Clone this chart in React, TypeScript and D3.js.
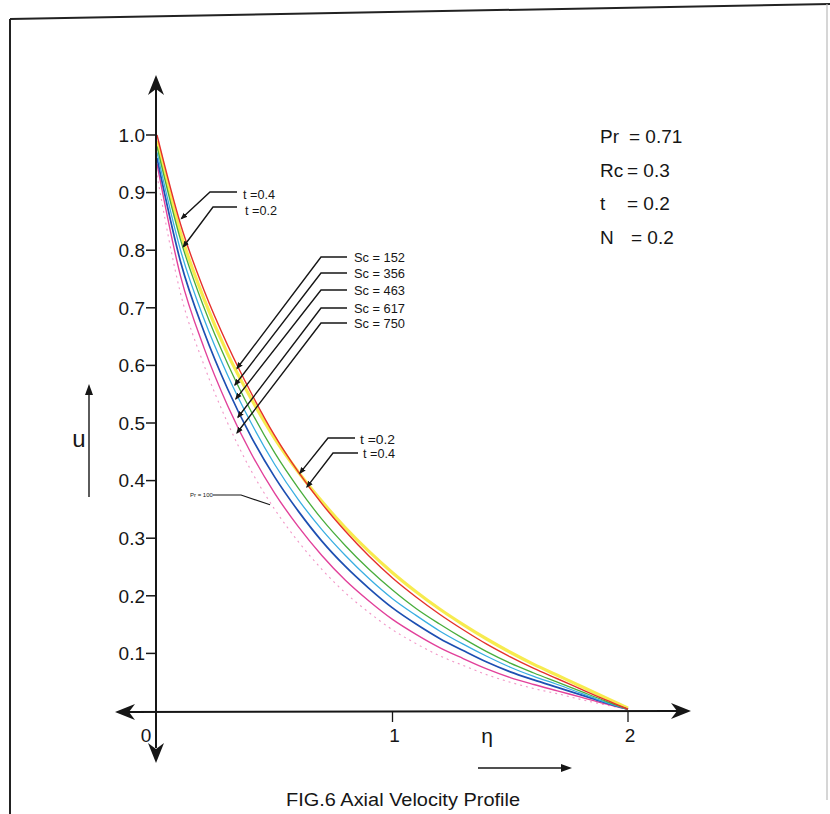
import React from "react";
import * as d3 from "d3";

// Similarity variable η along the plate
const ETA = [0, 0.1, 0.2, 0.3, 0.4, 0.5, 0.6, 0.7, 0.8, 0.9, 1.0, 1.1, 1.2, 1.3, 1.4, 1.5, 1.6, 1.7, 1.8, 1.9, 2.0];

// Axial velocity u(η) for each profile
const U_RED = [1.0, 0.845, 0.73, 0.635, 0.552, 0.478, 0.415, 0.36, 0.312, 0.269, 0.231, 0.198, 0.168, 0.141, 0.116, 0.094, 0.074, 0.056, 0.038, 0.02, 0.003];
const U_YELLOW = [0.99, 0.83, 0.715, 0.62, 0.542, 0.473, 0.415, 0.364, 0.318, 0.277, 0.24, 0.207, 0.177, 0.15, 0.125, 0.102, 0.081, 0.062, 0.043, 0.024, 0.005];
const U_GREEN = [0.98, 0.818, 0.7, 0.603, 0.52, 0.448, 0.387, 0.333, 0.287, 0.246, 0.21, 0.178, 0.151, 0.126, 0.103, 0.083, 0.066, 0.05, 0.034, 0.018, 0.003];
const U_CYAN = [0.97, 0.8, 0.68, 0.583, 0.5, 0.428, 0.367, 0.315, 0.27, 0.23, 0.195, 0.166, 0.139, 0.116, 0.095, 0.076, 0.06, 0.046, 0.031, 0.016, 0.003];
const U_BLUE = [0.96, 0.78, 0.658, 0.559, 0.476, 0.406, 0.347, 0.295, 0.251, 0.213, 0.179, 0.151, 0.126, 0.105, 0.085, 0.068, 0.054, 0.041, 0.028, 0.015, 0.003];
const U_PINK = [0.95, 0.755, 0.63, 0.53, 0.447, 0.378, 0.32, 0.27, 0.227, 0.191, 0.159, 0.133, 0.11, 0.091, 0.073, 0.058, 0.046, 0.035, 0.024, 0.013, 0.003];
const U_PR100 = [0.93, 0.725, 0.6, 0.5, 0.417, 0.35, 0.294, 0.246, 0.205, 0.171, 0.141, 0.117, 0.096, 0.079, 0.063, 0.05, 0.039, 0.03, 0.02, 0.011, 0.003];

// Axis ticks
const Y_TICKS = [0.1, 0.2, 0.3, 0.4, 0.5, 0.6, 0.7, 0.8, 0.9, 1.0];
const Y_TICK_LABELS = ["0.1", "0.2", "0.3", "0.4", "0.5", "0.6", "0.7", "0.8", "0.9", "1.0"];
const X_TICKS = [0, 1, 2];
const X_TICK_LABELS = ["0", "1", "2"];

// Parameter box
const PARAM_NAMES = ["Pr", "Rc", "t", "N"];
const PARAM_VALUES = ["= 0.71", "= 0.3", "= 0.2", "= 0.2"];

// Sc labels and where each leader lands (η, u)
const SC_LABELS = ["Sc = 152", "Sc = 356", "Sc = 463", "Sc = 617", "Sc = 750"];
const SC_TARGETS: [number, number][] = [[0.34, 0.595], [0.331, 0.566], [0.335, 0.542], [0.344, 0.51], [0.34, 0.483]];

const FONT = "'Liberation Sans', Arial, Helvetica, sans-serif";
const INK = "#161616";

const series = [
  { values: U_YELLOW, color: "#f6e93c", width: 3.2, dash: undefined as string | undefined, opacity: 0.9 },
  { values: U_PR100, color: "#f08ac0", width: 1.1, dash: "2,4", opacity: 0.9 },
  { values: U_PINK, color: "#e2409a", width: 1.4, dash: undefined, opacity: 1 },
  { values: U_BLUE, color: "#1d4fb2", width: 1.7, dash: undefined, opacity: 1 },
  { values: U_CYAN, color: "#39aee2", width: 1.3, dash: undefined, opacity: 1 },
  { values: U_GREEN, color: "#49ad3c", width: 1.3, dash: undefined, opacity: 1 },
  { values: U_RED, color: "#e5302c", width: 1.4, dash: undefined, opacity: 1 },
];

export default function App() {
  const x = d3.scaleLinear().domain([0, 2]).range([157, 628]);
  const y = d3.scaleLinear().domain([0, 1]).range([711, 135]);

  const line = d3
    .line<number>()
    .x((_, i) => x(ETA[i]))
    .y((d) => y(d))
    .curve(d3.curveMonotoneX);

  const axisX = x(0) - 1;
  const axisY = y(0);

  // leader: from text-side start, horizontal run, then diagonal to a point on the curves
  const leader = (sx: number, sy: number, run: number, eta: number, u: number) =>
    `M${sx},${sy} L${sx - run},${sy} L${x(eta)},${y(u)}`;

  return (
    <svg
      width={830}
      height={814}
      style={{ position: "absolute", left: 0, top: 0, display: "block", background: "#fff" }}
      fontFamily={FONT}
    >
      <defs>
        <marker id="tipDot" viewBox="0 0 10 10" refX="8" refY="5" markerWidth="5" markerHeight="5" orient="auto">
          <path d="M0,1 L10,5 L0,9 Z" fill={INK} />
        </marker>
      </defs>
      <rect x={0} y={0} width={830} height={814} fill="#fff" />

      {/* page frame */}
      <line x1={10} y1={19} x2={830} y2={4} stroke="#222" strokeWidth={2} />
      <line x1={10} y1={19} x2={10} y2={814} stroke="#222" strokeWidth={2} />
      <line x1={827} y1={4} x2={827} y2={800} stroke="#bbb" strokeWidth={1.2} />

      {/* profiles */}
      {series.map((s, i) => (
        <path
          key={i}
          d={line(s.values) || ""}
          fill="none"
          stroke={s.color}
          strokeWidth={s.width}
          strokeDasharray={s.dash}
          strokeOpacity={s.opacity}
          strokeLinejoin="round"
        />
      ))}

      {/* y axis */}
      <line x1={axisX} y1={88} x2={axisX} y2={748} stroke={INK} strokeWidth={2} />
      <path d={`M${axisX},75 L${axisX - 8},95 L${axisX},89 L${axisX + 8},95 Z`} fill={INK} />
      <path d={`M${axisX},763 L${axisX - 8},743 L${axisX},749 L${axisX + 8},743 Z`} fill={INK} />
      {Y_TICKS.map((t, i) => (
        <g key={t}>
          <line x1={axisX - 10} y1={y(t)} x2={axisX} y2={y(t)} stroke={INK} strokeWidth={1.5} />
          <text x={axisX - 11} y={y(t)} dy="0.36em" textAnchor="end" fontSize={19} fill={INK}>
            {Y_TICK_LABELS[i]}
          </text>
        </g>
      ))}

      {/* x axis */}
      <line x1={128} y1={axisY + 1} x2={678} y2={axisY} stroke={INK} strokeWidth={2} />
      <path d={`M115,${axisY + 1} L135,${axisY - 7} L129,${axisY + 1} L135,${axisY + 9} Z`} fill={INK} />
      <path d={`M691,${axisY} L671,${axisY - 8} L677,${axisY} L671,${axisY + 8} Z`} fill={INK} />
      {X_TICKS.map((t, i) => (
        <g key={t}>
          {t > 0 && <line x1={x(t)} y1={axisY} x2={x(t)} y2={axisY + 11} stroke={INK} strokeWidth={1.3} />}
          <text
            x={t === 0 ? x(t) - 11 : x(t) + 2}
            y={axisY + 24}
            dy="0.36em"
            textAnchor="middle"
            fontSize={19}
            fill={INK}
          >
            {X_TICK_LABELS[i]}
          </text>
        </g>
      ))}

      {/* axis titles */}
      <text x={79} y={438} dy="0.36em" textAnchor="middle" fontSize={24} fill={INK}>u</text>
      <line x1={89} y1={497} x2={89} y2={392} stroke={INK} strokeWidth={1.4} />
      <path d="M89,384 L85,395 L93,395 Z" fill={INK} />
      <text x={487} y={735} dy="0.36em" textAnchor="middle" fontSize={21} fill={INK}>η</text>
      <line x1={478} y1={768} x2={564} y2={768} stroke={INK} strokeWidth={1.4} />
      <path d="M572,768 L561,764 L561,772 Z" fill={INK} />

      {/* caption */}
      <text x={403} y={800} dy="0.36em" textAnchor="middle" fontSize={18} fill={INK} textLength={234} lengthAdjust="spacingAndGlyphs">
        FIG.6  Axial Velocity Profile
      </text>

      {/* parameter box */}
      {PARAM_NAMES.map((n, i) => (
        <g key={n} fontSize={19} fill={INK}>
          <text x={600} y={143 + i * 33.5}>{n}</text>
          <text x={i === 0 ? 629 : i === 3 ? 631 : 627} y={143 + i * 33.5}>{PARAM_VALUES[i]}</text>
        </g>
      ))}

      {/* t leaders near the wall */}
      <g fill="none" stroke={INK} strokeWidth={1.4}>
        <path d={leader(237, 192, 27, 0.104, 0.855)} markerEnd="url(#tipDot)" />
        <path d={leader(237, 207, 24, 0.112, 0.806)} markerEnd="url(#tipDot)" />
      </g>
      <text x={243} y={199} fontSize={12} fill={INK} textLength={32} lengthAdjust="spacingAndGlyphs">t =0.4</text>
      <text x={245} y={215} fontSize={12} fill={INK} textLength={32} lengthAdjust="spacingAndGlyphs">t =0.2</text>

      {/* Sc leaders */}
      {SC_LABELS.map((lab, i) => {
        const ly = [257, 273, 290, 308, 323][i];
        return (
          <g key={lab}>
            <path
              d={leader(347, ly, 26, SC_TARGETS[i][0], SC_TARGETS[i][1])}
              fill="none"
              stroke={INK}
              strokeWidth={1.4}
              markerEnd="url(#tipDot)"
            />
            <text x={354} y={ly + 5} fontSize={12} fill={INK} textLength={51} lengthAdjust="spacingAndGlyphs">
              {lab}
            </text>
          </g>
        );
      })}

      {/* t leaders mid-profile */}
      <g fill="none" stroke={INK} strokeWidth={1.4}>
        <path d={leader(355, 438, 27, 0.607, 0.413)} markerEnd="url(#tipDot)" />
        <path d={leader(358, 453, 25, 0.637, 0.389)} markerEnd="url(#tipDot)" />
      </g>
      <text x={360} y={444} fontSize={12} fill={INK} textLength={35} lengthAdjust="spacingAndGlyphs">t =0.2</text>
      <text x={363} y={458} fontSize={12} fill={INK} textLength={32} lengthAdjust="spacingAndGlyphs">t =0.4</text>

      {/* Pr = 100 leader */}
      <path d={`M213,495 L241,495 L${x(0.48)},${y(0.358)}`} fill="none" stroke={INK} strokeWidth={1.1} />
      <text x={190} y={497} fontSize={6} fill={INK}>Pr = 100</text>
    </svg>
  );
}
